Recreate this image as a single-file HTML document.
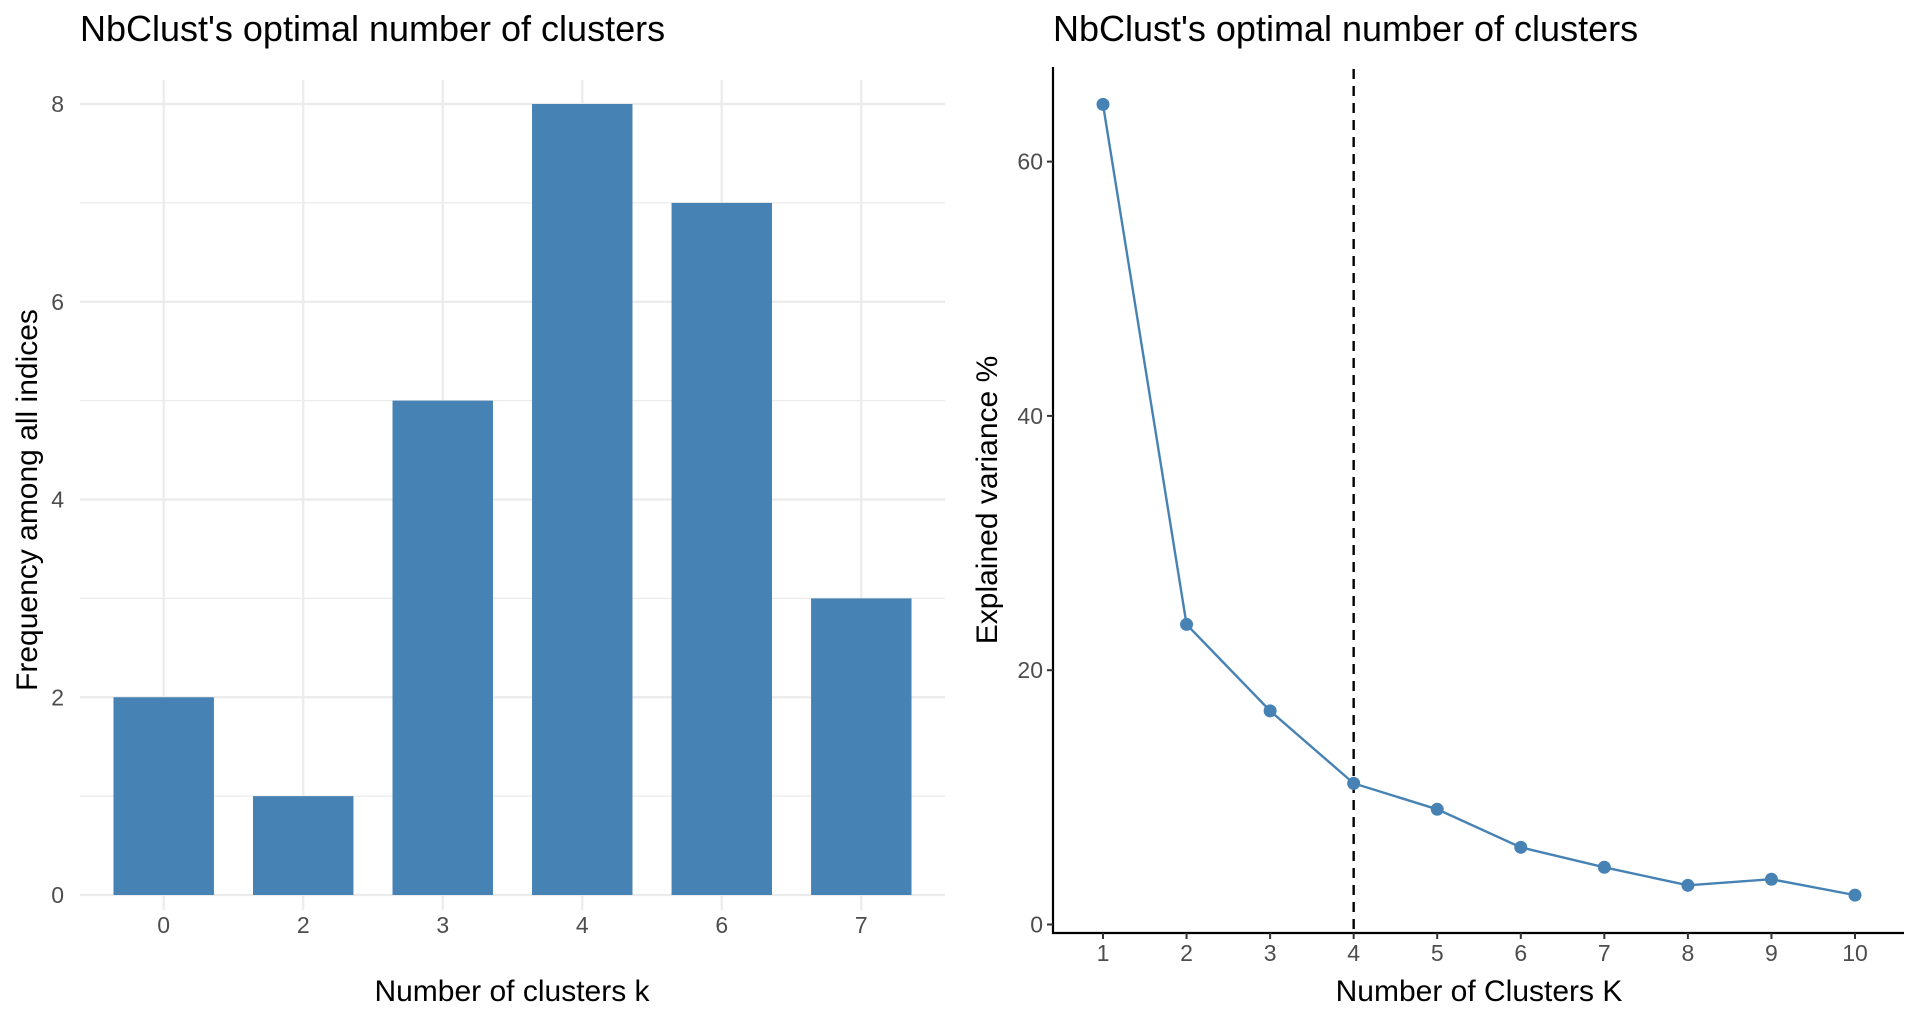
<!DOCTYPE html>
<html><head><meta charset="utf-8"><style>
html,body{margin:0;padding:0;background:#fff;}
svg{display:block;font-family:"Liberation Sans",sans-serif;}
</style></head><body>
<svg id="c" width="1920" height="1024" xmlns="http://www.w3.org/2000/svg">
<text x="80" y="41" font-size="36" fill="#000">NbClust's optimal number of clusters</text>
<text x="1053" y="41" font-size="36" fill="#000">NbClust's optimal number of clusters</text>
<g id="left"></g>
<g id="right"></g>
<text x="512" y="1001" font-size="30" text-anchor="middle" fill="#000">Number of clusters k</text>
<text transform="translate(37,500) rotate(-90)" font-size="30" text-anchor="middle" fill="#000">Frequency among all indices</text>
<text x="1479" y="1001" font-size="30" text-anchor="middle" fill="#000">Number of Clusters K</text>
<text transform="translate(997,500) rotate(-90)" font-size="30" text-anchor="middle" fill="#000">Explained variance %</text>
</svg>
<script>
const barCategories = ["0","2","3","4","6","7"];
const barValues = [2,1,5,8,7,3];
const barYTicks = [0,2,4,6,8];
const lineK = [1,2,3,4,5,6,7,8,9,10];
const lineValues = [64.5,23.6,16.8,11.1,9.06,6.07,4.5,3.08,3.56,2.31];
const lineYTicks = [0,20,40,60];
const optimalK = [4];

const NS="http://www.w3.org/2000/svg";
function mk(parent,tag,attrs){const e=document.createElementNS(NS,tag);for(const k in attrs)e.setAttribute(k,attrs[k]);parent.appendChild(e);return e;}

const L=document.getElementById('left');
const lx0=80,lx1=945,ly0=895,lyPer=(895-104)/8;
const ly=v=>ly0-v*lyPer;
const band=(lx1-lx0)/(barCategories.length+0.2);
const lxc=i=>lx0+band*0.6+i*band;
for(let v=0;v<=8;v++){
  const g=mk(L,'line',{x1:lx0,x2:lx1,y1:ly(v),y2:ly(v),stroke:'#ebebeb','stroke-width':v%2?1.2:2.2});
  
  
}
barCategories.forEach((c,i)=>{
  const g=mk(L,'line',{x1:lxc(i),x2:lxc(i),y1:80,y2:910,stroke:'#ebebeb','stroke-width':2.2});
  
  
});
barCategories.forEach((c,i)=>{
  const w=band*0.72;
  const r=mk(L,'rect',{x:lxc(i)-w/2,y:ly(barValues[i]),width:w,height:ly(0)-ly(barValues[i]),fill:'#4682b4'});
  
  
  const t=mk(L,'text',{x:lxc(i),y:933,'font-size':23,'text-anchor':'middle',fill:'#4d4d4d'});
  t.textContent=c;
  
  
});
barYTicks.forEach(v=>{
  const t=mk(L,'text',{x:64,y:ly(v)+8,'font-size':23,'text-anchor':'end',fill:'#4d4d4d'});
  t.textContent=v;
  
  
});

const R=document.getElementById('right');
const rx0=1053,rx1=1904,ry0=924.5,ryPer=(924.5-161.6)/60;
const rx=k=>1103+(k-1)*(1855-1103)/9;
const ry=v=>ry0-v*ryPer;
let a=mk(R,'line',{x1:rx0,x2:rx0,y1:67,y2:934,stroke:'#000','stroke-width':2.2});


a=mk(R,'line',{x1:rx0-1,x2:rx1,y1:933,y2:933,stroke:'#000','stroke-width':2.2});


lineYTicks.forEach(v=>{
  const tk=mk(R,'line',{x1:rx0-6,x2:rx0,y1:ry(v),y2:ry(v),stroke:'#333','stroke-width':2});
  
  
  const t=mk(R,'text',{x:rx0-10,y:ry(v)+8,'font-size':23,'text-anchor':'end',fill:'#4d4d4d'});
  t.textContent=v;
  
  
});
lineK.forEach(k=>{
  const tk=mk(R,'line',{x1:rx(k),x2:rx(k),y1:933,y2:939,stroke:'#333','stroke-width':2});
  
  
  const t=mk(R,'text',{x:rx(k),y:961,'font-size':23,'text-anchor':'middle',fill:'#4d4d4d'});
  t.textContent=k;
  
  
});
optimalK.forEach(k=>{
  const d=mk(R,'line',{x1:rx(k),x2:rx(k),y1:69,y2:933,stroke:'#000','stroke-width':2.4,'stroke-dasharray':'10,7'});
  
  
});
const p=mk(R,'polyline',{points:lineK.map((k,i)=>rx(k)+','+ry(lineValues[i])).join(' '),fill:'none',stroke:'#4682b4','stroke-width':2.4});


lineK.forEach((k,i)=>{
  const c=mk(R,'circle',{cx:rx(k),cy:ry(lineValues[i]),r:6.5,fill:'#4682b4'});
  
  
});
</script>
</body></html>
